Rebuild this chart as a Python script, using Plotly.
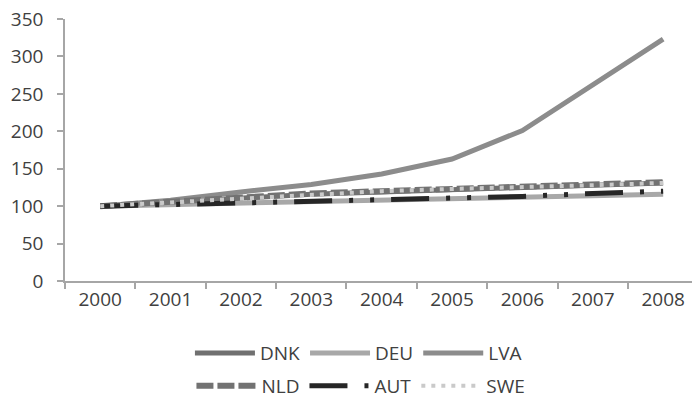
import plotly.graph_objects as go

years = ["2000", "2001", "2002", "2003", "2004", "2005", "2006", "2007", "2008"]
dnk = [100, 105, 110, 116, 119, 122, 125, 128, 131]
deu = [100, 102, 104, 106, 107, 109, 112, 114, 116]
lva = [100, 108, 119, 129, 143, 163, 201, 262, 323]
nld = [100, 106, 111, 117, 120, 123, 125, 128, 132]
aut = [100, 102, 104, 106, 108, 110, 113, 117, 120]
swe = [100, 105, 110, 116, 120, 123, 125, 128, 131]
y_ticks = [0, 50, 100, 150, 200, 250, 300, 350]

FONT = "Open Sans"
TXT = "#404040"

fig = go.Figure()
series = [
    ("DNK", dnk, dict(color="#707070", width=5, dash="solid"), "legend"),
    ("DEU", deu, dict(color="#a8a8a8", width=5, dash="solid"), "legend"),
    ("LVA", lva, dict(color="#8c8c8c", width=5, dash="solid"), "legend"),
    ("NLD", nld, dict(color="#727272", width=6, dash="17px,4px"), "legend2"),
    ("AUT", aut, dict(color="#262626", width=5, dash="38px,17px,4px,17px,4px,17px"), "legend2"),
    ("SWE", swe, dict(color="#cacaca", width=4, dash="4px,6px"), "legend2"),
]
for name, vals, line, lg in series:
    fig.add_trace(go.Scatter(x=years, y=vals, name=name, mode="lines",
                             line=line, legend=lg))

legend_common = dict(orientation="h", xanchor="center", yanchor="middle",
                     font=dict(family=FONT, size=19, color=TXT),
                     itemwidth=60, entrywidth=0, bgcolor="rgba(0,0,0,0)",
                     traceorder="normal", tracegroupgap=0, itemclick=False)

fig.update_layout(
    width=692, height=409,
    margin=dict(l=65, r=0, t=19, b=128, autoexpand=False),
    paper_bgcolor="white", plot_bgcolor="white",
    font=dict(family=FONT, size=19, color=TXT),
    legend=dict(x=0.468, y=-0.275, **legend_common),
    legend2=dict(x=0.472, y=-0.40, **legend_common),
    xaxis=dict(type="category", range=[-0.5, 8.41], showgrid=False, automargin=False,
               showline=True, linecolor="#a6a6a6", linewidth=1.5,
               ticks="outside", ticklen=6, tickcolor="#a6a6a6", tickwidth=1.5,
               tickson="boundaries", ticklabeloverflow="allow",
               tickfont=dict(family=FONT, size=19, color=TXT)),
    yaxis=dict(range=[0, 350], tickvals=y_ticks, showgrid=False, automargin=False,
               showline=True, linecolor="#a6a6a6", linewidth=1.5,
               ticks="outside", ticklen=6, tickcolor="#a6a6a6", tickwidth=1.5,
               ticklabelstandoff=10, zeroline=False, ticklabeloverflow="allow",
               tickfont=dict(family=FONT, size=19, color=TXT)),
)

fig.write_html("out.html",
               config={"displayModeBar": False},
               post_script="document.body.style.margin='0';document.body.style.overflow='hidden';")
